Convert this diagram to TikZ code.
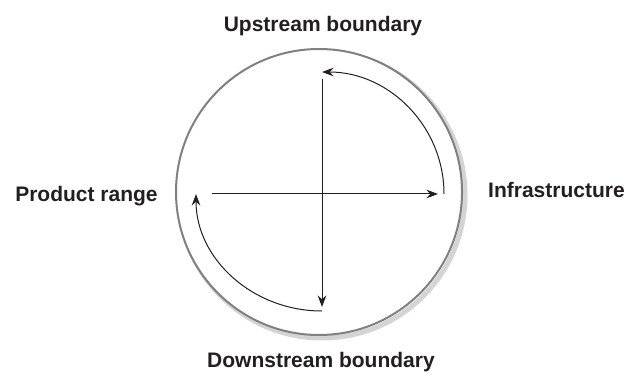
\documentclass[tikz,border=0pt]{standalone}
\usepackage{fontspec}
\setmainfont{Liberation Sans}
\usetikzlibrary{arrows.meta}
\definecolor{rimgray}{RGB}{128,128,128}
\definecolor{shadegray}{RGB}{212,212,212}
\definecolor{inkblack}{RGB}{35,31,32}
\tikzstyle{heading} = [font=\bfseries\fontsize{21}{25}\selectfont, text=inkblack, inner sep=0pt, anchor=base]
\tikzstyle{arrow} = [draw=inkblack, line width=1pt, -{Stealth[length=11.5pt, width=8.5pt]}]
\tikzstyle{rim} = [draw=rimgray, line width=2pt, fill=white]
\tikzstyle{shade} = [draw=shadegray, line width=5pt]
\begin{document}
\begin{tikzpicture}[x=1pt, y=1pt]
\useasboundingbox (0,0) rectangle (634,375);

% disc with its shadow
\draw [shade] (322,180) circle (143);
\draw [rim] (319,183) circle (143);

% cross
\coordinate (west) at (212,181);
\coordinate (east) at (438,181);
\coordinate (north) at (322,296);
\coordinate (south) at (322,68);
\draw [arrow] (west) -- (east);
\draw [arrow] (north) -- (south);

% turning arcs
\coordinate (rturn) at (444,181);
\coordinate (bturn) at (322,64);
\draw [arrow] (rturn) arc [start angle=0, end angle=90, radius=122];
\draw [arrow] (bturn) arc [start angle=270, end angle=180, x radius=126, y radius=117];

% labels
\node (upstream) [heading] at (323,343) {Upstream boundary};
\node (downstream) [heading] at (321,8) {Downstream boundary};
\node (product) [heading] at (86.5,173) {Product range};
\node (infra) [heading] at (556.5,177) {Infrastructure};

\end{tikzpicture}
\end{document}
